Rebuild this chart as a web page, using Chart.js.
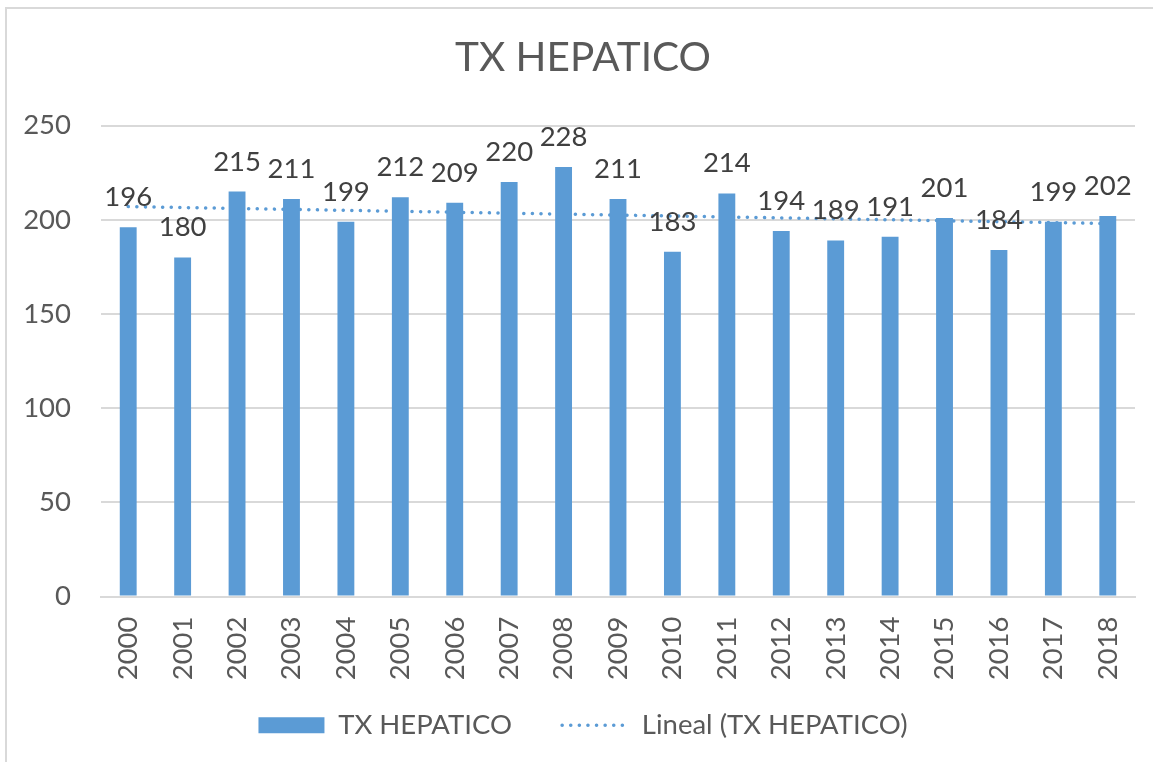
<!DOCTYPE html>
<html>
<head>
<meta charset="utf-8">
<script src="https://cdn.jsdelivr.net/npm/chart.js@4/dist/chart.umd.min.js"></script>
<style>
  html, body { margin: 0; padding: 0; background: #fff; }
  #wrap { position: relative; width: 1153px; height: 762px; }
</style>
</head>
<body>
<div id="wrap"><canvas id="myChart"></canvas></div>
<script>
const years = ["2000", "2001", "2002", "2003", "2004", "2005", "2006", "2007", "2008", "2009",
    "2010", "2011", "2012", "2013", "2014", "2015", "2016", "2017", "2018"];
const transplants = [196, 180, 215, 211, 199, 212, 209, 220, 228, 211,
    183, 214, 194, 189, 191, 201, 184, 199, 202];
// trend line, only the two ends
const trendEnds = [207, 198];
const yTicks = [0, 50, 100, 150, 200, 250];

const font = "Lato, 'Open Sans', sans-serif";
const blue = "#5B9BD5";
const fs = 27.5;

const trend = years.map((y, i) => i === 0 ? trendEnds[0] : (i === years.length - 1 ? trendEnds[1] : null));

// white background + the thin frame on the left and top
const frame = {
    id: 'frame',
    beforeDraw(chart) {
        const c = chart.ctx;
        c.save();
        c.fillStyle = '#fff';
        c.fillRect(0, 0, chart.width, chart.height);
        c.strokeStyle = '#D9D9D9';
        c.lineWidth = 2;
        c.beginPath();
        c.moveTo(6, chart.height);
        c.lineTo(6, 8);
        c.lineTo(chart.width, 8);
        c.stroke();
        c.restore();
    }
};

// value labels above each bar
const barLabels = {
    id: 'barLabels',
    afterDatasetsDraw(chart) {
        const c = chart.ctx;
        const meta = chart.getDatasetMeta(0);
        c.save();
        c.font = fs + "px " + font;
        c.fillStyle = '#404040';
        c.textAlign = 'center';
        c.textBaseline = 'alphabetic';
        meta.data.forEach((bar, i) => {
            c.fillText(String(transplants[i]), bar.x, bar.y - 21);
        });
        c.restore();
    }
};

let myChart = new Chart("myChart", {
    type: "bar",
    data: {
        labels: years,
        datasets: [{
            label: "TX HEPATICO",
            data: transplants,
            backgroundColor: blue,
            barPercentage: 0.31,
            categoryPercentage: 1,
            order: 0
        }, {
            type: "line",
            label: "Lineal (TX HEPATICO)",
            data: trend,
            spanGaps: true,
            borderColor: blue,
            borderWidth: 3.5,
            borderDash: [0.1, 8.5],
            borderCapStyle: 'round',
            pointRadius: 0,
            fill: false,
            order: 1
        }]
    },
    options: {
        responsive: true,
        maintainAspectRatio: false,
        animation: false,
        layout: {padding: {left: 13, right: 0, top: 0, bottom: 13}},
        plugins: {
            tooltip: {enabled: false},
            title: {
                display: true,
                text: "TX HEPATICO",
                color: '#595959',
                font: {family: font, size: 40.5, weight: 'normal'},
                padding: {top: 34, bottom: 43}
            },
            legend: {
                position: 'bottom',
                labels: {
                    usePointStyle: true,
                    pointStyleWidth: 66,
                    boxHeight: 16,
                    padding: 29,
                    color: '#595959',
                    font: {family: font, size: fs},
                    generateLabels() {
                        return [{
                            // trailing spaces widen the gap to the second item
                            text: "TX HEPATICO\u00a0\u00a0\u00a0", fillStyle: blue, strokeStyle: blue,
                            lineWidth: 0, pointStyle: 'rect', fontColor: '#595959', datasetIndex: 0
                        }, {
                            text: "Lineal (TX HEPATICO)", fillStyle: 'rgba(0,0,0,0)', strokeStyle: blue,
                            lineWidth: 3.5, lineDash: [0.1, 8.5], lineCap: 'round',
                            pointStyle: 'line', fontColor: '#595959', datasetIndex: 1
                        }];
                    }
                }
            }
        },
        scales: {
            x: {
                grid: {display: false, drawTicks: false},
                border: {display: true, color: '#D9D9D9', width: 2},
                ticks: {
                    color: '#595959',
                    font: {family: font, size: fs},
                    minRotation: 90,
                    maxRotation: 90,
                    padding: 20
                },
                afterFit(scale) {
                    scale.height = 86;
                    scale.paddingLeft = 0;
                    scale.paddingRight = 18;
                }
            },
            y: {
                min: 0,
                max: 250,
                afterBuildTicks(scale) { scale.ticks = yTicks.map(v => ({value: v})); },
                grid: {color: '#D9D9D9', lineWidth: 2, drawTicks: false},
                border: {display: false},
                ticks: {
                    color: '#595959',
                    font: {family: font, size: fs},
                    padding: 30
                },
                afterFit(scale) { scale.width = 88; }
            }
        }
    },
    plugins: [frame, barLabels]
});
</script>
</body>
</html>
